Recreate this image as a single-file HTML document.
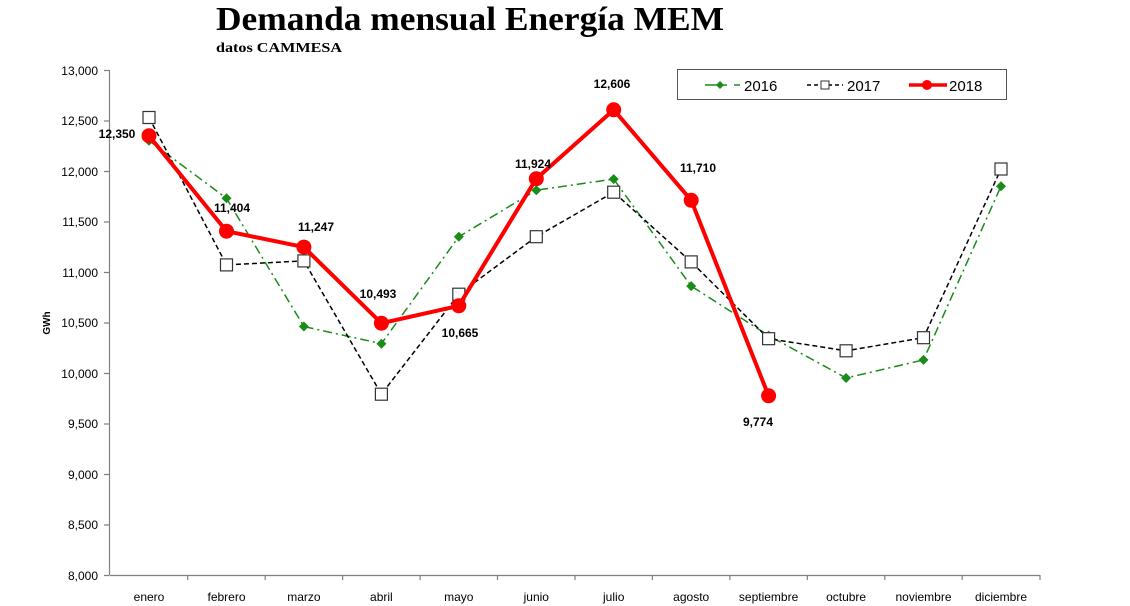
<!DOCTYPE html>
<html><head><meta charset="utf-8"><style>body{margin:0;background:#fff}svg{display:block}</style></head><body>
<svg width="1130" height="606" xmlns="http://www.w3.org/2000/svg" font-family="Liberation Sans, sans-serif">
<text x="216" y="30" font-family="Liberation Serif, serif" font-weight="bold" font-size="34" textLength="508" lengthAdjust="spacingAndGlyphs">Demanda mensual Energía MEM</text>
<text x="216" y="52" font-family="Liberation Serif, serif" font-weight="bold" font-size="14" textLength="126" lengthAdjust="spacingAndGlyphs">datos CAMMESA</text>
<g stroke="#808080" stroke-width="1.2" fill="none">
<line x1="109.5" y1="70" x2="109.5" y2="575"/>
<line x1="109.5" y1="575.5" x2="1040" y2="575.5"/>
<path d="M104 70.5h5M104 121h5M104 171.5h5M104 222h5M104 272.5h5M104 323h5M104 373.5h5M104 424h5M104 474.5h5M104 525h5M104 575.5h5"/>
<path d="M187.7 575v5M265.2 575v5M342.6 575v5M420.1 575v5M497.5 575v5M575 575v5M652.4 575v5M729.9 575v5M807.3 575v5M884.8 575v5M962.2 575v5M1040 575v5"/>
</g>
<g font-size="12" text-anchor="end" fill="#000">
<text x="98" y="75">13,000</text><text x="98" y="125">12,500</text><text x="98" y="176">12,000</text><text x="98" y="226">11,500</text><text x="98" y="277">11,000</text><text x="98" y="327">10,500</text><text x="98" y="378">10,000</text><text x="98" y="428">9,500</text><text x="98" y="479">9,000</text><text x="98" y="529">8,500</text><text x="98" y="580">8,000</text>
</g>
<text x="50" y="323" font-size="10" font-weight="bold" transform="rotate(-90 50 323)" text-anchor="middle">GWh</text>
<g font-size="12" text-anchor="middle">
<text x="149" y="601">enero</text><text x="226.5" y="601">febrero</text><text x="303.9" y="601">marzo</text><text x="381.4" y="601">abril</text><text x="458.8" y="601">mayo</text><text x="536.3" y="601">junio</text><text x="613.7" y="601">julio</text><text x="691.2" y="601">agosto</text><text x="768.6" y="601">septiembre</text><text x="846.1" y="601">octubre</text><text x="923.5" y="601">noviembre</text><text x="1001" y="601">diciembre</text>
</g>
<polyline fill="none" stroke="#1a8c1a" stroke-width="1.5" stroke-dasharray="9,4,2,4" points="149,140.7 226.5,198.3 303.9,326.5 381.4,343.7 458.8,236.7 536.3,190.2 613.7,179.1 691.2,286.1 768.6,335.6 846.1,378 923.5,359.9 1001,186.2"/>
<g fill="#1a8c1a">
<path d="M149 135.7l5 5-5 5-5-5z"/><path d="M226.5 193.3l5 5-5 5-5-5z"/><path d="M303.9 321.5l5 5-5 5-5-5z"/><path d="M381.4 338.7l5 5-5 5-5-5z"/><path d="M458.8 231.7l5 5-5 5-5-5z"/><path d="M536.3 185.2l5 5-5 5-5-5z"/><path d="M613.7 174.1l5 5-5 5-5-5z"/><path d="M691.2 281.1l5 5-5 5-5-5z"/><path d="M768.6 330.6l5 5-5 5-5-5z"/><path d="M846.1 373l5 5-5 5-5-5z"/><path d="M923.5 354.9l5 5-5 5-5-5z"/><path d="M1001 181.2l5 5-5 5-5-5z"/>
</g>
<polyline fill="none" stroke="#000" stroke-width="1.5" stroke-dasharray="5,3" points="149,117.5 226.5,264.9 303.9,260.9 381.4,394.2 458.8,294.2 536.3,236.7 613.7,192.2 691.2,261.9 768.6,338.7 846.1,350.8 923.5,337.7 1001,169"/>
<g fill="#fff" stroke="#333" stroke-width="1.2">
<rect x="143" y="111.5" width="12" height="12"/><rect x="220.5" y="258.9" width="12" height="12"/><rect x="297.9" y="254.9" width="12" height="12"/><rect x="375.4" y="388.2" width="12" height="12"/><rect x="452.8" y="288.2" width="12" height="12"/><rect x="530.3" y="230.7" width="12" height="12"/><rect x="607.7" y="186.2" width="12" height="12"/><rect x="685.2" y="255.9" width="12" height="12"/><rect x="762.6" y="332.7" width="12" height="12"/><rect x="840.1" y="344.8" width="12" height="12"/><rect x="917.5" y="331.7" width="12" height="12"/><rect x="995" y="163" width="12" height="12"/>
</g>
<polyline fill="none" stroke="#ff0000" stroke-width="4" points="149,135.7 226.5,231.2 303.9,247.1 381.4,323.2 458.8,305.8 536.3,178.7 613.7,109.8 691.2,200.3 768.6,395.8"/>
<g fill="#ff0000">
<circle cx="149" cy="135.7" r="7.5"/><circle cx="226.5" cy="231.2" r="7.5"/><circle cx="303.9" cy="247.1" r="7.5"/><circle cx="381.4" cy="323.2" r="7.5"/><circle cx="458.8" cy="305.8" r="7.5"/><circle cx="536.3" cy="178.7" r="7.5"/><circle cx="613.7" cy="109.8" r="7.5"/><circle cx="691.2" cy="200.3" r="7.5"/><circle cx="768.6" cy="395.8" r="7.5"/>
</g>
<g font-size="12" font-weight="bold" text-anchor="middle">
<text x="117" y="138">12,350</text><text x="232" y="212">11,404</text><text x="316" y="231">11,247</text><text x="378" y="298">10,493</text><text x="460" y="337">10,665</text><text x="533" y="168">11,924</text><text x="612" y="88">12,606</text><text x="698" y="172">11,710</text><text x="758" y="426">9,774</text>
</g>
<rect x="677.5" y="69.5" width="329" height="30" fill="#fff" stroke="#555" stroke-width="1"/>
<line x1="705" y1="85" x2="727" y2="85" stroke="#1a8c1a" stroke-width="1.5"/><line x1="734" y1="85" x2="740" y2="85" stroke="#1a8c1a" stroke-width="1.5"/>
<path d="M720 81l4 4-4 4-4-4z" fill="#1a8c1a"/>
<text x="744" y="91" font-size="15">2016</text>
<line x1="807" y1="85" x2="843" y2="85" stroke="#000" stroke-width="1.5" stroke-dasharray="4,3"/>
<rect x="821" y="81" width="8" height="8" fill="#fff" stroke="#333"/>
<text x="847" y="91" font-size="15">2017</text>
<line x1="909" y1="85" x2="947" y2="85" stroke="#ff0000" stroke-width="3.5"/>
<circle cx="927" cy="85" r="5" fill="#ff0000"/>
<text x="949" y="91" font-size="15">2018</text>
</svg>
</body></html>
